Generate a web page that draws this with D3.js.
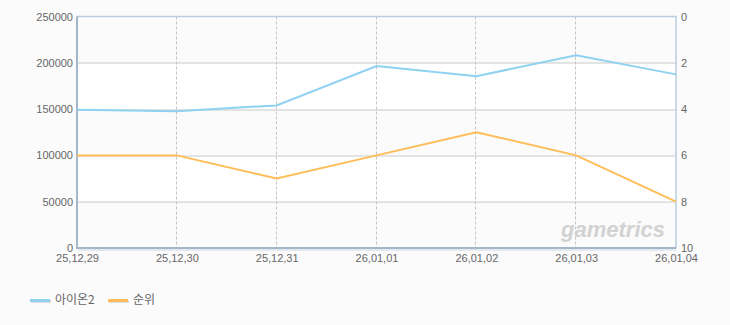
<!DOCTYPE html>
<meta charset="utf-8">
<style>
body { margin: 0; background: #fbfbfb; }
svg { display: block; }
.tick text { font: 11px "Liberation Sans", Arial, sans-serif; fill: #666; }
.legend text { font: 12px "Noto Sans CJK KR", sans-serif; fill: #666; }
</style>
<svg width="730" height="325"></svg>
<script src="https://cdn.jsdelivr.net/npm/d3@7"></script>
<script>

var dates = ["25.12.29", "25.12.30", "25.12.31", "26.01.01", "26.01.02", "26.01.03", "26.01.04"];
var users = [149300, 147800, 154000, 196500, 185500, 208200, 187500];
var rank = [6, 6, 7, 6, 5, 6, 8];
var leftTicks = [0, 50000, 100000, 150000, 200000, 250000];
var rightTicks = [0, 2, 4, 6, 8, 10];

var svg = d3.select("svg"),
    margin = {left: 77, right: 54, top: 16.5, bottom: 77},
    width = 730 - margin.left - margin.right,
    height = 325 - margin.top - margin.bottom,
    g = svg.append("g").attr("transform", "translate(" + margin.left + "," + margin.top + ")");

var x = d3.scalePoint().domain(dates).range([0, width]);
var y = d3.scaleLinear().domain([0, 250000]).range([height, 0]);
var y2 = d3.scaleLinear().domain([10, 0]).range([height, 0]);

// plot background bands
g.append("rect").attr("width", width).attr("height", height).attr("fill", "#fff");
g.selectAll(".band")
    .data(leftTicks.slice(0, -1).filter(function(d, i) { return i % 2 == 0; }))
  .enter().append("rect")
    .attr("class", "band")
    .attr("y", function(d) { return y(d + 50000); })
    .attr("width", width)
    .attr("height", function(d) { return y(d) - y(d + 50000); })
    .attr("fill", "#fbfbfb");

// grid
g.selectAll(".hgrid")
    .data(leftTicks.slice(1, -1))
  .enter().append("line")
    .attr("x1", 0).attr("x2", width)
    .attr("y1", function(d) { return Math.round(y(d)) + 0.5; })
    .attr("y2", function(d) { return Math.round(y(d)) + 0.5; })
    .attr("stroke", "#cacaca");

g.selectAll(".vgrid")
    .data(dates.slice(1, -1))
  .enter().append("line")
    .attr("x1", function(d) { return Math.round(x(d)) - 0.5; })
    .attr("x2", function(d) { return Math.round(x(d)) - 0.5; })
    .attr("y1", 0).attr("y2", height)
    .attr("stroke", "#c4c4c4")
    .attr("stroke-dasharray", "3,2");

// watermark
g.append("text")
    .attr("x", width - 11).attr("y", height - 11)
    .attr("text-anchor", "end")
    .style("font", "italic bold 22px 'Liberation Sans', sans-serif")
    .attr("fill", "#d2d2d2")
    .text("gametrics");

// frame
g.append("rect").attr("width", width).attr("height", height)
    .attr("fill", "none").attr("stroke", "#b9cde0").attr("stroke-width", 1.5);
g.append("line").attr("x1", 1.5).attr("x2", width).attr("y1", height + 2).attr("y2", height + 2)
    .attr("stroke", "#dde3ea").attr("stroke-width", 1.5);
g.append("line").attr("x1", 0).attr("x2", 0).attr("y1", 0).attr("y2", height + 1)
    .attr("stroke", "#a3b6cb").attr("stroke-width", 2);
g.append("line").attr("x1", 0).attr("x2", width).attr("y1", height).attr("y2", height)
    .attr("stroke", "#a3b6cb").attr("stroke-width", 2);

// axes
var yAxis = g.append("g")
    .call(d3.axisLeft(y).tickValues(leftTicks).tickSize(0).tickPadding(4).tickFormat(d3.format("d")));
var yAxis2 = g.append("g").attr("transform", "translate(" + width + ",0)")
    .call(d3.axisRight(y2).tickValues(rightTicks).tickSize(0).tickPadding(5));
var xAxis = g.append("g").attr("transform", "translate(0," + height + ")")
    .call(d3.axisBottom(x).tickSize(0).tickPadding(6).tickFormat(function(d) { return d.replace(/\./g, ","); }));
[yAxis, yAxis2, xAxis].forEach(function(a) { a.select(".domain").remove(); });

// lines
var line1 = d3.line().x(function(d, i) { return x(dates[i]); }).y(function(d) { return y(d); });
var line2 = d3.line().x(function(d, i) { return x(dates[i]); }).y(function(d) { return y2(d); });

g.append("path").datum(users)
    .attr("d", line1).attr("fill", "none")
    .attr("stroke", "#8fd1f1").attr("stroke-width", 2);
g.append("path").datum(rank)
    .attr("d", line2).attr("fill", "none")
    .attr("stroke", "#ffbd59").attr("stroke-width", 2);

// legend
var legend = svg.append("g").attr("class", "legend");
var items = [{name: "아이온2", color: "#8fd1f1", x: 30}, {name: "순위", color: "#ffbd59", x: 108}];
var li = legend.selectAll("g").data(items).enter().append("g")
    .attr("transform", function(d) { return "translate(" + d.x + ",300)"; });
li.append("rect").attr("x", 1).attr("y", 0).attr("width", 20).attr("height", 3).attr("fill", "#ddd");
li.append("rect").attr("x", 0).attr("y", -1).attr("width", 20).attr("height", 3).attr("fill", function(d) { return d.color; });
li.append("text").attr("x", 25).attr("y", 4).text(function(d) { return d.name; });

</script>
